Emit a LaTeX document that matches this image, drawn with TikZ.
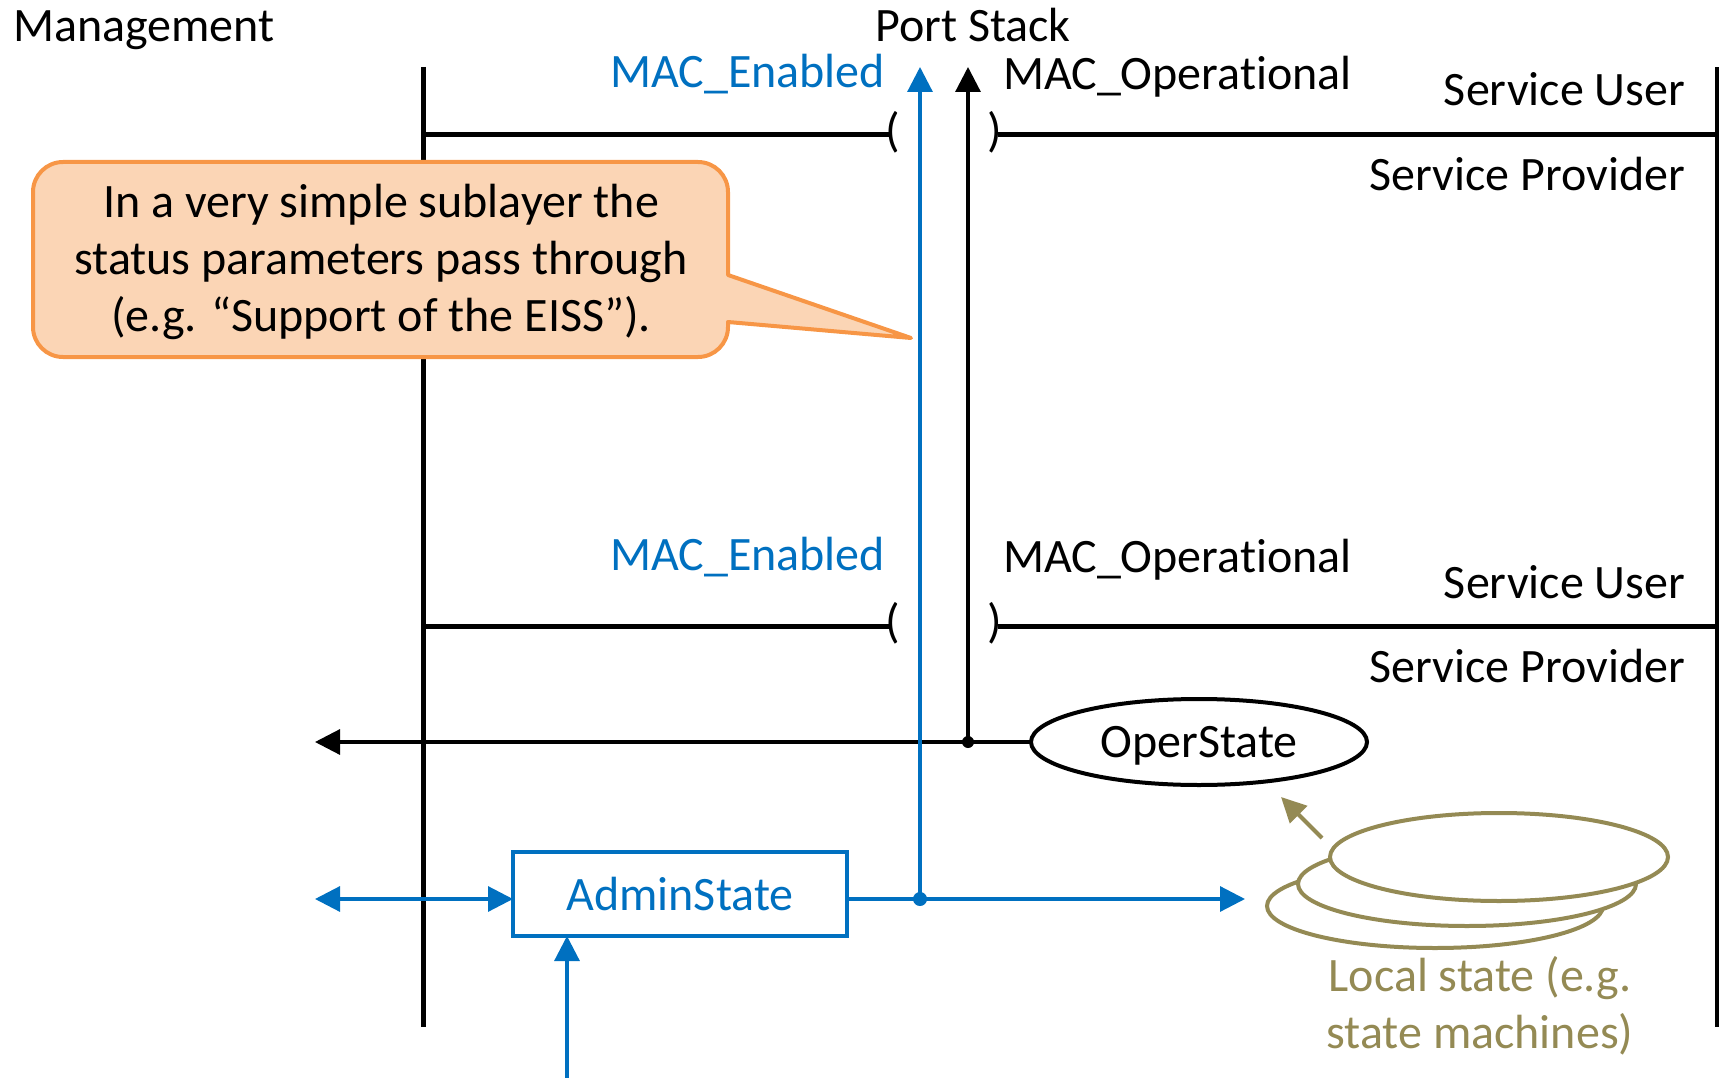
\documentclass[tikz,border=0pt]{standalone}
\usepackage{fontspec}
\setmainfont{Carlito}[Ligatures=NoCommon]
\usetikzlibrary{arrows.meta,shapes.geometric}
\definecolor{mblue}{HTML}{0070C0}
\definecolor{olv}{HTML}{948A54}
\definecolor{cfill}{HTML}{FBD5B5}
\definecolor{cline}{HTML}{F79646}
\begin{document}
\begin{tikzpicture}[x=1pt,y=-1pt,
  every node/.style={font=\fontsize{48}{57}\selectfont, inner sep=0pt, outer sep=0pt},
  heavy/.style={line width=5pt},
  ahd/.style={-{Triangle[length=25pt,width=25pt]}},
  ahdd/.style={{Triangle[length=25pt,width=25pt]}-{Triangle[length=25pt,width=25pt]}},
  blk/.style={line width=3.2pt, ahd},
  blu/.style={line width=3.2pt, draw=mblue, ahd},
  bluline/.style={line width=3.2pt, draw=mblue},
  stack/.style={line width=4pt, draw=olv, fill=white},
  callout/.style={line width=4pt, draw=cline, fill=cfill, line join=round},
]
\useasboundingbox (0,0) rectangle (1719,1078);

% titles
\node[anchor=base west] (mgmt) at (13,42) {Management};
\node[anchor=base] (port) at (973,42) {Port Stack};

% layer boundaries (vertical)
\coordinate (lt) at (423,67); \coordinate (lb) at (423,1027);
\coordinate (rt) at (1717,67); \coordinate (rb) at (1717,1027);
\draw[heavy] (lt) -- (lb);
\draw[heavy] (rt) -- (rb);

% upper service boundary
\coordinate (h1l) at (423,135); \coordinate (h1m) at (891,135);
\coordinate (h1n) at (998,135); \coordinate (h1r) at (1719,135);
\draw[heavy] (h1l) -- (h1m);
\draw[heavy] (h1n) -- (h1r);
\node (lp1) at (893,132) {(};
\node (rp1) at (995,132) {)};

% lower service boundary
\coordinate (h2l) at (423,626); \coordinate (h2m) at (891,626);
\coordinate (h2n) at (998,626); \coordinate (h2r) at (1719,626);
\draw[heavy] (h2l) -- (h2m);
\draw[heavy] (h2n) -- (h2r);
\node (lp2) at (893,623) {(};
\node (rp2) at (995,623) {)};

% labels
\node[anchor=base east, text=mblue] (me1) at (885,88) {MAC\_Enabled};
\node[anchor=base west] (mo1) at (1003,90) {MAC\_Operational};
\node[anchor=base east] (su1) at (1685,106) {Service User};
\node[anchor=base east] (sp1) at (1685,191) {Service Provider};
\node[anchor=base east, text=mblue] (me2) at (885,570) {MAC\_Enabled};
\node[anchor=base west] (mo2) at (1003,572) {MAC\_Operational};
\node[anchor=base east] (su2) at (1685,598) {Service User};
\node[anchor=base east] (sp2) at (1685,682) {Service Provider};

% callout
\draw[callout] (63,162) -- (698,162) arc[start angle=-90,end angle=0,radius=30]
  -- (728,275) -- (911,338) -- (728,322) -- (728,327)
  arc[start angle=0,end angle=90,radius=30] -- (63,357)
  arc[start angle=90,end angle=180,radius=30] -- (33,192)
  arc[start angle=180,end angle=270,radius=30] -- cycle;
\node[align=center] (ctext) at (381,262) {In a very simple sublayer the\\status parameters pass through\\(e.g. “Support of the EISS”).};

% OperState
\node[ellipse, draw, line width=4pt, minimum width=336pt, minimum height=86pt, text depth=0pt] (oper) at (1199,742) {OperState};
\coordinate (odot) at (968,742);
\coordinate (otop) at (968,67);
\coordinate (oleft) at (315,742);
\draw[line width=3.2pt] (oper.west) -- (odot);
\draw[blk] (odot) -- (oleft);
\draw[blk] (odot) -- (otop);
\fill (odot) circle[radius=6];

% AdminState
\node[draw=mblue, line width=4.5pt, text=mblue, minimum width=334pt, minimum height=84pt] (admin) at (680,894) {AdminState};
\coordinate (bdot) at (920,899);
\coordinate (btop) at (920,67);
\coordinate (bright) at (1245,899);
\coordinate (bleft) at (315,899);
\coordinate (bin) at (567,1078);
\draw[bluline] (admin.east |- bdot) -- (bdot);
\draw[blu] (bdot) -- (bright);
\draw[blu] (bdot) -- (btop);
\draw[line width=3.2pt, draw=mblue, ahdd] (bleft) -- (admin.west |- bdot);
\draw[blu] (bin) -- (bin |- admin.south);
\fill[mblue] (bdot) circle[radius=7];

% local state machines
\draw[stack] (1435,906) ellipse[x radius=168, y radius=42];
\draw[stack] (1467,884) ellipse[x radius=169, y radius=42];
\draw[stack] (1499,857) ellipse[x radius=169, y radius=44];
\coordinate (ofrom) at (1322,838);
\coordinate (oto) at (1281,797);
\draw[line width=4pt, draw=olv, -{Triangle[length=25pt,width=24pt]}] (ofrom) -- (oto);
\node[align=center, text=olv] (local) at (1480,1006) {Local state (e.g.\\state machines)};
\end{tikzpicture}
\end{document}
